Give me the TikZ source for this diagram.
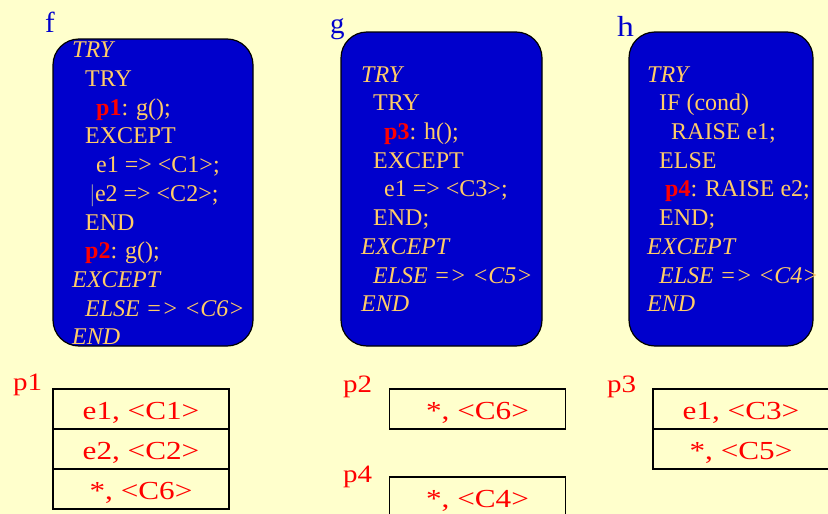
\documentclass[tikz,border=0pt]{standalone}
\usepackage{fontspec}
\setmainfont{Liberation Serif}
\definecolor{bg}{HTML}{FFFFCC}
\definecolor{boxblue}{HTML}{0000CC}
\definecolor{gold}{HTML}{FFCC66}
\definecolor{lblblue}{HTML}{0000CC}
\definecolor{pred}{HTML}{FF0000}
\definecolor{bargrey}{HTML}{8888AA}
\newcommand{\pmark}[1]{{\bfseries\color{pred}#1}}
\newcommand{\wtext}[1]{\scalebox{1.2}[1]{#1}}
\newcommand{\wlabel}[1]{\scalebox{1.16}[1]{#1}}
\begin{document}
\begin{tikzpicture}[x=1pt,y=-1pt,
  codebox/.style={draw=black, line width=1.2pt, fill=boxblue, rounded corners=26pt},
  cl/.style={anchor=base west, inner sep=0pt, text=gold, font=\fontsize{24}{28}\selectfont},
  cli/.style={anchor=base west, inner sep=0pt, text=gold, font=\fontsize{24}{28}\selectfont\itshape},
  fname/.style={anchor=base west, inner sep=0pt, text=lblblue, font=\fontsize{29}{34}\selectfont},
  plabel/.style={anchor=base west, inner sep=0pt, text=pred, font=\fontsize{25}{30}\selectfont},
  cell/.style={draw=black, line width=1.2pt, fill=bg, minimum width=176pt, minimum height=40pt,
    inner sep=0pt, text height=20pt, text depth=0pt, text=pred, font=\fontsize{26}{30}\selectfont},
]
\useasboundingbox (0,0) rectangle (828,514);
\clip (0,0) rectangle (828,514);
\fill[bg] (0,0) rectangle (828,514);

% boxes
\draw[codebox] (53,39) rectangle (253,346);
\draw[codebox] (341,32) rectangle (542,346);
\draw[codebox] (629,32) rectangle (813,346);

% function names
\node[fname] (lf) at (45,32) {f};
\node[fname] (lg) at (330,33) {g};
\node[fname] (lh) at (617,36) {\wlabel{h}};

% f code
\node[cli] (f1) at (72,57) {TRY};
\node[cl] (f2) at (85,86) {TRY};
\node[cl] (f3) at (96,115) {\pmark{p1}: g();};
\node[cl] (f4) at (85,143.5) {EXCEPT};
\node[cl] (f5) at (96,172) {e1 => <C1>;};
\node[cl] (f6) at (90,201) {{\color{bargrey}|}e2 => <C2>;};
\node[cl] (f7) at (85,230) {END};
\node[cl] (f8) at (85,258.5) {\pmark{p2}: g();};
\node[cli] (f9) at (72,287) {EXCEPT};
\node[cli] (f10) at (85,316) {ELSE => <C6>};
\node[cli] (f11) at (72,344) {END};

% g code
\node[cli] (g1) at (361,82) {TRY};
\node[cl] (g2) at (373,110.7) {TRY};
\node[cl] (g3) at (384,139.4) {\pmark{p3}: h();};
\node[cl] (g4) at (373,168) {EXCEPT};
\node[cl] (g5) at (384,196.8) {e1 => <C3>;};
\node[cl] (g6) at (373,225.5) {END;};
\node[cli] (g7) at (361,254.2) {EXCEPT};
\node[cli] (g8) at (373,283) {ELSE => <C5>};
\node[cli] (g9) at (361,311.7) {END};

% h code
\node[cli] (h1) at (647,82) {TRY};
\node[cl] (h2) at (659,110.7) {IF (cond)};
\node[cl] (h3) at (671,139.4) {RAISE e1;};
\node[cl] (h4) at (659,168) {ELSE};
\node[cl] (h5) at (665,196.8) {\pmark{p4}: RAISE e2;};
\node[cl] (h6) at (659,225.5) {END;};
\node[cli] (h7) at (647,254.2) {EXCEPT};
\node[cli] (h8) at (659,283) {ELSE => <C4>};
\node[cli] (h9) at (647,311.7) {END};

% p labels
\node[plabel] (lp1) at (13,390) {\wlabel{p1}};
\node[plabel] (lp2) at (343,392) {\wlabel{p2}};
\node[plabel] (lp4) at (343,482.5) {\wlabel{p4}};
\node[plabel] (lp3) at (607,392) {\wlabel{p3}};

% tables
\node[cell] (t11) at (141,409) {\wtext{e1, <C1>}};
\node[cell] (t12) at (141,449) {\wtext{e2, <C2>}};
\node[cell] (t13) at (141,489) {\wtext{*, <C6>}};

\node[cell] (t21) at (477.5,409) {\wtext{*, <C6>}};
\node[cell] (t41) at (477.5,497) {\wtext{*, <C4>}};

\node[cell] (t31) at (741,409) {\wtext{e1, <C3>}};
\node[cell] (t32) at (741,449) {\wtext{*, <C5>}};
\end{tikzpicture}
\end{document}
